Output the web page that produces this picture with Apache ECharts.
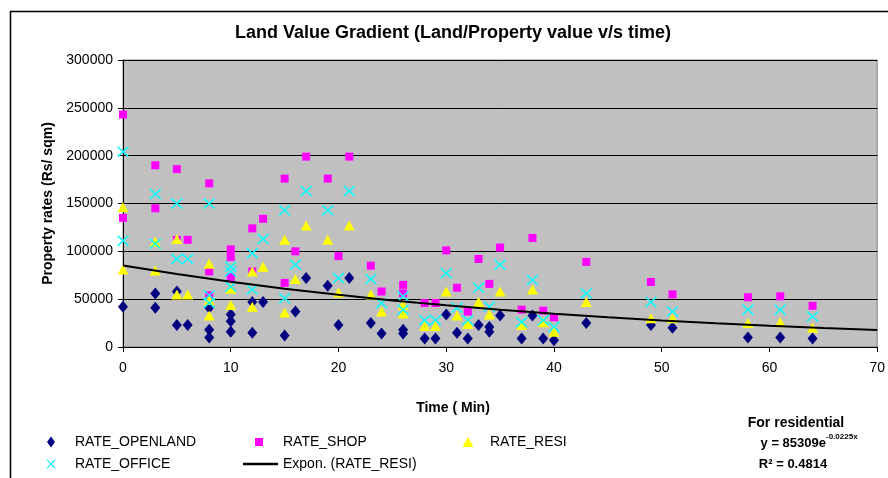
<!DOCTYPE html>
<html lang="en" style="height: 100%">
<head>
    <meta charset="utf-8">
    <title>Land Value Gradient</title>
    <script src="https://cdn.jsdelivr.net/npm/echarts@6/dist/echarts.min.js"></script>
    <style>
        html, body { margin: 0; padding: 0; background: #fff; }
        #chart { width: 888px; height: 478px; }
    </style>
</head>
<body>
<div id="chart"></div>

<script type="text/javascript">
    // points: [time (min), rate (Rs/sqm)]
    var rateOpenland = [
        [0, 42000], [3, 56000], [3, 41000], [5, 58000], [5, 23000], [6, 23000],
        [8, 41000], [8, 18000], [8, 10000], [10, 34000], [10, 27000], [10, 16000],
        [12, 47000], [12, 15000], [13, 47000], [15, 12000], [16, 37000], [17, 72000],
        [19, 64000], [20, 23000], [21, 72000], [23, 25000], [24, 14000], [26, 18000],
        [26, 14000], [28, 9000], [29, 9000], [30, 34000], [31, 15000], [32, 9000],
        [33, 23000], [34, 21000], [34, 16000], [35, 33000], [37, 9000], [38, 33000],
        [39, 9000], [40, 7000], [43, 25000], [49, 23000], [51, 20000], [58, 10000],
        [61, 10000], [64, 9000]
    ];
    var rateShop = [
        [0, 243000], [0, 135000], [3, 190000], [3, 145000], [5, 186000], [5, 112000],
        [6, 112000], [8, 171000], [8, 79000], [8, 54000], [10, 102000], [10, 94000],
        [10, 73000], [12, 124000], [12, 79000], [13, 134000], [15, 176000], [15, 67000],
        [16, 100000], [17, 199000], [19, 176000], [20, 95000], [21, 199000], [23, 85000],
        [24, 58000], [26, 65000], [26, 56000], [28, 46000], [29, 46000], [30, 101000],
        [31, 62000], [32, 37000], [33, 92000], [34, 66000], [35, 104000], [37, 39000],
        [38, 114000], [39, 38000], [40, 31000], [43, 89000], [49, 68000], [51, 55000],
        [58, 52000], [61, 53000], [64, 43000]
    ];
    var rateResi = [
        [0, 146000], [0, 81000], [3, 110000], [3, 80000], [5, 113000], [5, 55000],
        [6, 55000], [8, 87000], [8, 49000], [8, 33000], [10, 61000], [10, 44000],
        [12, 79000], [12, 42000], [13, 84000], [15, 112000], [15, 36000], [16, 71000],
        [17, 127000], [19, 112000], [20, 57000], [21, 127000], [23, 55000], [24, 37000],
        [26, 44000], [26, 35000], [28, 22000], [29, 22000], [30, 58000], [31, 33000],
        [32, 24000], [33, 47000], [34, 34000], [35, 58000], [37, 23000], [38, 60000],
        [39, 26000], [40, 16000], [43, 47000], [49, 30000], [51, 30000], [58, 25000],
        [61, 26000], [64, 20000]
    ];
    var rateOffice = [
        [0, 204000], [0, 111000], [3, 160000], [3, 108000], [5, 150000], [5, 92000],
        [6, 92000], [8, 150000], [8, 54000], [8, 46000], [10, 84000], [10, 79000],
        [10, 63000], [12, 98000], [12, 60000], [13, 113000], [15, 143000], [15, 51000],
        [16, 86000], [17, 163000], [19, 143000], [20, 72000], [21, 163000], [23, 71000],
        [24, 46000], [26, 53000], [26, 39000], [28, 28000], [29, 28000], [30, 77000],
        [31, 41000], [32, 28000], [33, 62000], [34, 42000], [35, 86000], [37, 26000],
        [38, 70000], [39, 28000], [40, 21000], [43, 56000], [49, 47000], [51, 37000],
        [58, 39000], [61, 39000], [64, 32000]
    ];
    // exponential trend of RATE_RESI
    var trendTime = [0, 5, 10, 15, 20, 25, 30, 35, 40, 45, 50, 55, 60, 65, 70];
    var trendRate = [85300, 76200, 68200, 60900, 54500, 48700, 43600, 38900,
                     34800, 31100, 27800, 24900, 22300, 19900, 17800];

    var FONT = '"Liberation Sans", Arial, sans-serif';
    var crossPath = 'path://M0,1.1L1.1,0L6,4.9L10.9,0L12,1.1L7.1,6L12,10.9L10.9,12L6,7.1L1.1,12L0,10.9L4.9,6Z';

    var myChart = echarts.init(document.getElementById('chart'));

    // one legend box per entry so each sits where the original puts it
    function legendAt(name, left, top, w, h, pad, icon) {
        var lg = {
            data: [name], left: left, top: top, padding: 0,
            itemWidth: w, itemHeight: h, selectedMode: false,
            textStyle: { fontFamily: FONT, fontSize: 14, color: '#000', padding: [0, 0, 0, pad] }
        };
        if (icon) lg.icon = icon;
        return lg;
    }

    myChart.setOption({
        backgroundColor: '#fff',
        animation: false,
        graphic: [
            { type: 'rect', z: -10, shape: { x: 10.5, y: 11.5, width: 900, height: 500 },
              style: { fill: null, stroke: '#000', lineWidth: 1.5 } },
            { type: 'text', x: 453, y: 33, style: { text: 'Land Value Gradient (Land/Property value v/s time)',
              font: 'bold 18px ' + FONT, fill: '#000', align: 'center', verticalAlign: 'middle' } },
            { type: 'text', x: 453, y: 408, style: { text: 'Time ( Min)',
              font: 'bold 14px ' + FONT, fill: '#000', align: 'center', verticalAlign: 'middle' } },
            { type: 'text', x: 796, y: 423, style: { text: 'For residential',
              font: 'bold 14px ' + FONT, fill: '#000', align: 'center', verticalAlign: 'middle' } },
            { type: 'text', x: 826, y: 443, style: { text: 'y = 85309e',
              font: 'bold 13px ' + FONT, fill: '#000', align: 'right', verticalAlign: 'middle' } },
            { type: 'text', x: 826, y: 437, style: { text: '-0.0225x',
              font: 'bold 8px ' + FONT, fill: '#000', align: 'left', verticalAlign: 'middle' } },
            { type: 'text', x: 793, y: 464, style: { text: 'R\u00B2 = 0.4814',
              font: 'bold 13px ' + FONT, fill: '#000', align: 'center', verticalAlign: 'middle' } }
        ],
        legend: [
            legendAt('RATE_OPENLAND', 47, 435, 8, 11, 15),
            legendAt('RATE_SHOP', 255, 435, 8, 8, 15),
            legendAt('RATE_RESI', 462.5, 435, 11, 10, 11.5),
            legendAt('RATE_OFFICE', 46.5, 457, 9, 10, 14.5),
            legendAt('Expon. (RATE_RESI)', 243, 457, 35, 2.5, 0, 'rect')
        ],
        grid: {
            left: 123, right: 1, top: 60, bottom: 131,
            show: true, backgroundColor: '#C0C0C0', borderColor: '#808080', borderWidth: 1
        },
        xAxis: {
            type: 'value', min: 0, max: 70, interval: 10,
            axisLine: { show: true, lineStyle: { color: '#000', width: 1 } },
            axisTick: { show: true, length: 5, lineStyle: { color: '#000' } },
            axisLabel: { fontFamily: FONT, fontSize: 14, color: '#000', margin: 14 },
            splitLine: { show: false }
        },
        yAxis: {
            type: 'value', min: 0, max: 300000, interval: 50000,
            name: 'Property rates (Rs/ sqm)', nameLocation: 'middle', nameGap: 66,
            nameTextStyle: { fontFamily: FONT, fontSize: 14, fontWeight: 'bold', color: '#000' },
            axisLine: { show: true, lineStyle: { color: '#000', width: 1 } },
            axisTick: { show: true, length: 5, lineStyle: { color: '#000' } },
            axisLabel: { fontFamily: FONT, fontSize: 14, color: '#000', margin: 10,
                         formatter: function (v) { return String(v); } },
            splitLine: { show: true, lineStyle: { color: '#000', width: 1 } }
        },
        series: [
            { name: 'RATE_OPENLAND', type: 'scatter', data: rateOpenland,
              symbol: 'diamond', symbolSize: [10, 12], itemStyle: { color: '#000080', opacity: 1 } },
            { name: 'RATE_SHOP', type: 'scatter', data: rateShop,
              symbol: 'rect', symbolSize: 8, itemStyle: { color: '#FF00FF', opacity: 1 } },
            { name: 'RATE_RESI', type: 'scatter', data: rateResi,
              symbol: 'triangle', symbolSize: [11, 10], itemStyle: { color: '#FFFF00', opacity: 1 } },
            { name: 'RATE_OFFICE', type: 'scatter', data: rateOffice,
              symbol: crossPath, symbolSize: [12, 11], itemStyle: { color: '#00FFFF', opacity: 1 } },
            { name: 'Expon. (RATE_RESI)', type: 'line', z: 5, showSymbol: false, symbol: 'none',
              data: trendTime.map(function (t, i) { return [t, trendRate[i]]; }),
              lineStyle: { color: '#000', width: 2 }, itemStyle: { color: '#000' } }
        ]
    });
</script>
</body>
</html>
